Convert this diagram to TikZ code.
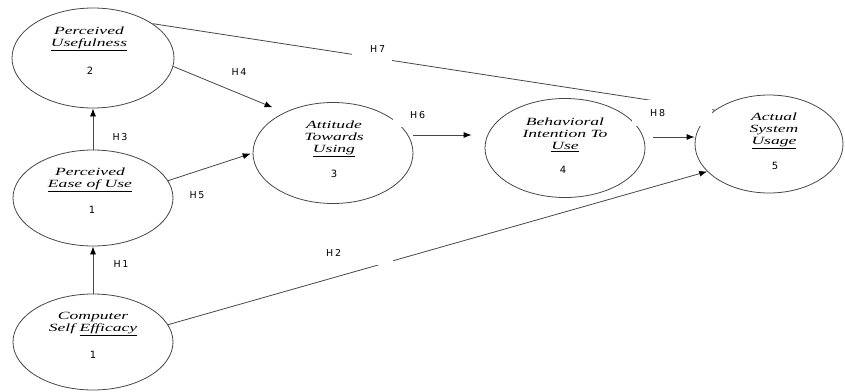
\documentclass[tikz,border=0pt]{standalone}
\usepackage{fontspec}
\setmainfont{Liberation Serif}
\newfontfamily\cfont[FakeStretch=1.6]{Liberation Serif}
\newfontfamily\hfont[LetterSpace=18]{DejaVu Sans}
\newfontfamily\nfont{DejaVu Sans}
\usetikzlibrary{shapes.geometric,arrows.meta,calc}
\tikzset{
  lc/.style={draw=black!72, line width=0.8pt},
  circ/.style={ellipse, lc, inner sep=0pt},
  ttl/.style={font=\cfont\itshape\fontsize{11}{12}\selectfont, align=center, inner sep=0pt},
  num/.style={font=\nfont\fontsize{10}{12}\selectfont, inner sep=0pt},
  hl/.style={font=\hfont\fontsize{9.5}{11}\selectfont, inner sep=0pt},
  hbox/.style={hl, fill=white, anchor=north west, align=left},
  arr/.style={lc, -{Latex[length=8pt,width=6pt,color=black]}},
}
\begin{document}
\begin{tikzpicture}[x=1pt,y=-1pt]
\fill[white] (0,0) rectangle (845,391);
\useasboundingbox (0,0) rectangle (845,391);

% constructs
\node[circ, minimum width=162pt, minimum height=100pt] (PU)   at (93,58)  {};
\node[circ, minimum width=160pt, minimum height=96pt]  (PEOU) at (93,198) {};
\node[circ, minimum width=160pt, minimum height=96pt]  (CSE)  at (93,342) {};
\node[circ, minimum width=160pt, minimum height=101pt] (ATU)  at (333,153) {};
\node[circ, minimum width=160pt, minimum height=99pt]  (BI)   at (565,148) {};
\node[circ, minimum width=148pt, minimum height=98pt]  (ASU)  at (769,144) {};

% titles
\node[ttl] (tPU)   at ($(PU)+(-4,-19)$)   {Perceived\\\underline{Usefulness}};
\node[ttl] (tPEOU) at ($(PEOU)+(-3,-18.5)$) {Perceived\\\underline{Ease of Use}};
\node[ttl] (tCSE)  at ($(CSE)+(0,-18)$)   {Computer\\Self \underline{Efficacy}};
\node[ttl] (tATU)  at ($(ATU)+(1,-14)$)   {Attitude\\Towards\\\underline{Using}};
\node[ttl] (tBI)   at ($(BI)+(0,-13.5)$)  {Behavioral\\Intention To\\\underline{Use}};
\node[ttl] (tASU)  at ($(ASU)+(5,-13.5)$) {Actual\\System\\\underline{Usage}};

% numbers
\node[num] (nPU)   at ($(PU)+(-3,13)$)   {2};
\node[num] (nPEOU) at ($(PEOU)+(-1,12)$) {1};
\node[num] (nCSE)  at ($(CSE)+(0,13)$)   {1};
\node[num] (nATU)  at ($(ATU)+(1,21)$)   {3};
\node[num] (nBI)   at ($(BI)+(-2,22)$)   {4};
\node[num] (nASU)  at ($(ASU)+(6,22)$)   {5};

% connectors
\draw[arr] (CSE) -- (PEOU);
\draw[arr] (PEOU) -- (PU);
\draw[arr, shorten >=13pt] (PU.-6) -- (ATU.140);
\draw[arr, shorten >=2pt] (PEOU.13) -- (ATU.180);
\draw[arr] ([yshift=18pt]ATU.east) -- ([xshift=-13pt,yshift=13pt]BI.west);
\draw[lc] (PU.30) -- (ASU.148);
\draw[arr] ([xshift=8pt,yshift=11pt]BI.east) -- ([yshift=7pt]ASU.west);
\draw[arr] (CSE.13) -- (ASU.204);

% hypothesis labels
\node[hl] (h1) at (121,264) {H1};
\node[hl] (h3) at (120,137) {H3};
\node[hl] (h4) at (239,72)  {H4};
\node[hl] (h5) at (197,195) {H5};
\node[hbox, text width=52pt, minimum height=24pt] (h6) at (393,103) {\hspace*{17pt}H6};
\node[hbox, text width=40pt, minimum height=26pt] (h7) at (352,36)  {\hspace*{18pt}H7};
\node[hbox, text width=80pt, minimum height=26pt] (h8) at (632,100) {\hspace*{18pt}H8};
\node[hbox, text width=85pt, minimum height=25pt] (h2) at (308,240) {\hspace*{18pt}H2};
\end{tikzpicture}
\end{document}
